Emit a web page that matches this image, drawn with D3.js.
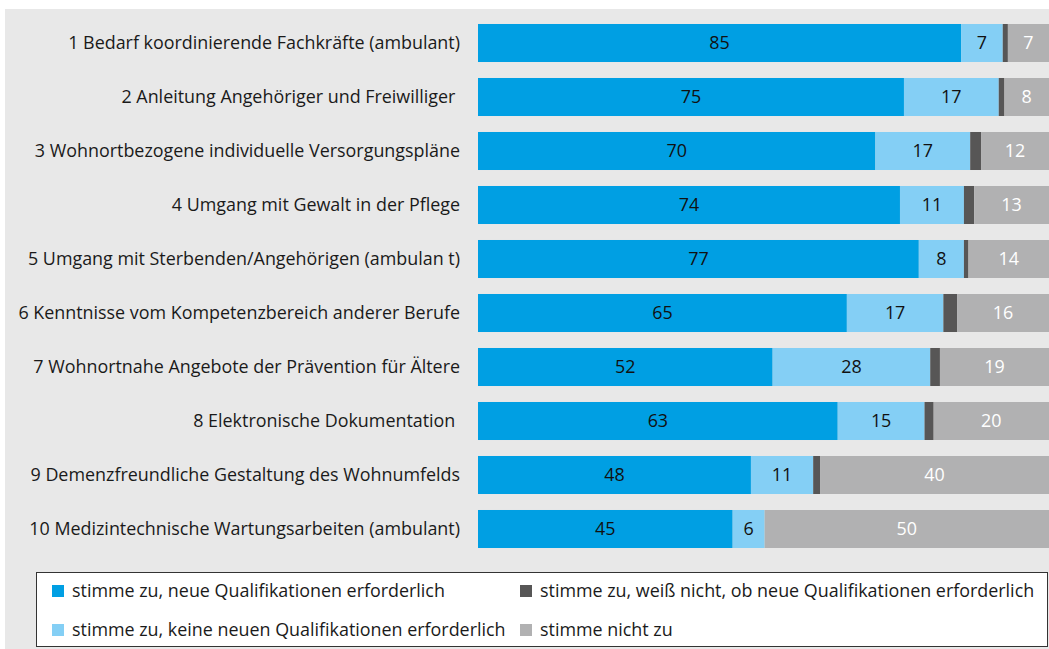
<!DOCTYPE html>
<html><head><meta charset="utf-8">
<script src="https://cdn.jsdelivr.net/npm/d3@7"></script>
<style>
html,body{margin:0;padding:0;background:#fff;}
svg text{font-family:"Open Sans","Noto Sans",sans-serif;}
</style></head>
<body>
<svg id="chart" width="1049" height="649"></svg>
<script>
const categories = [
  "1 Bedarf koordinierende Fachkräfte (ambulant)",
  "2 Anleitung Angehöriger und Freiwilliger ",
  "3 Wohnortbezogene individuelle Versorgungspläne",
  "4 Umgang mit Gewalt in der Pflege",
  "5 Umgang mit Sterbenden/Angehörigen (ambulan t)",
  "6 Kenntnisse vom Kompetenzbereich anderer Berufe",
  "7 Wohnortnahe Angebote der Prävention für Ältere",
  "8 Elektronische Dokumentation ",
  "9 Demenzfreundliche Gestaltung des Wohnumfelds",
  "10 Medizintechnische Wartungsarbeiten (ambulant)"
];
const neueQuali   = [84.6, 74.6, 69.6, 73.9, 77.2, 64.6, 51.6, 63.0, 47.8, 44.6];
const keineQuali  = [7.3, 16.6, 16.6, 11.2, 7.9, 16.9, 27.6, 15.2, 10.9, 5.6];
const weissNicht  = [0.9, 1.0, 1.9, 1.8, 0.8, 2.4, 1.7, 1.6, 1.2, 0];
const nichtZu     = [7.2, 7.8, 11.9, 13.1, 14.1, 16.1, 19.1, 20.2, 40.1, 49.8];
const seriesNames = [
  "stimme zu, neue Qualifikationen erforderlich",
  "stimme zu, keine neuen Qualifikationen erforderlich",
  "stimme zu, weiß nicht, ob neue Qualifikationen erforderlich",
  "stimme nicht zu"
];
const seriesColors = ["#009fe3", "#84cff5", "#575656", "#b1b1b2"];
const labelColors  = ["#111", "#111", null, "#fff"];

const FS = 17.9;
const keys = ["a","b","c","d"];
const table = categories.map((c,i)=>({cat:c, a:neueQuali[i], b:keineQuali[i], c:weissNicht[i], d:nichtZu[i]}));

const svg = d3.select("#chart");
svg.append("rect").attr("x",5).attr("y",9).attr("width",1044).attr("height",640).attr("fill","#e8e8e8");

const x = d3.scaleLinear().domain([0,100]).range([478,1049]);
const y = d3.scaleBand().domain(categories).range([16,556]).paddingInner(0.296).paddingOuter(0.148);

const stack = d3.stack().keys(keys)(table);

const g = svg.append("g");
stack.forEach((layer, si) => {
  const lg = g.append("g").attr("fill", seriesColors[si]);
  lg.selectAll("rect").data(layer).join("rect")
    .attr("x", d => x(d[0]))
    .attr("width", d => x(d[1]) - x(d[0]))
    .attr("y", d => y(d.data.cat))
    .attr("height", y.bandwidth());
  if (labelColors[si]) {
    g.append("g").selectAll("text").data(layer.filter(d => d[1]-d[0] > 0)).join("text")
      .attr("x", d => (x(d[0]) + x(d[1]))/2)
      .attr("y", d => y(d.data.cat) + y.bandwidth()/2)
      .attr("text-anchor","middle").attr("dy","0.36em")
      .attr("font-size", FS).attr("fill", labelColors[si])
      .text(d => Math.round(d[1]-d[0]));
  }
});

// category axis
const yAxis = svg.append("g").attr("transform","translate(460,0)")
  .call(d3.axisLeft(y).tickSize(0).tickPadding(0));
yAxis.select(".domain").remove();
yAxis.selectAll("text").attr("font-size", FS).attr("fill","#1a1a1a")
  .attr("font-family","'Open Sans','Noto Sans',sans-serif").style("white-space","pre");

// legend
svg.append("rect").attr("x",36.5).attr("y",572.5).attr("width",1011).attr("height",74)
  .attr("fill","#fff").attr("stroke","#333").attr("stroke-width",1);
const legPos = [[52,591],[52,630],[520,591],[520,630]];
const leg = svg.append("g");
seriesNames.forEach((n,i)=>{
  const [lx,ly] = legPos[i];
  leg.append("rect").attr("x",lx).attr("y",ly-6).attr("width",12).attr("height",12).attr("fill",seriesColors[i]);
  leg.append("text").attr("x",lx+20).attr("y",ly).attr("dy","0.36em")
    .attr("font-size",FS).attr("fill","#1a1a1a").text(n);
});
</script>
</body></html>
